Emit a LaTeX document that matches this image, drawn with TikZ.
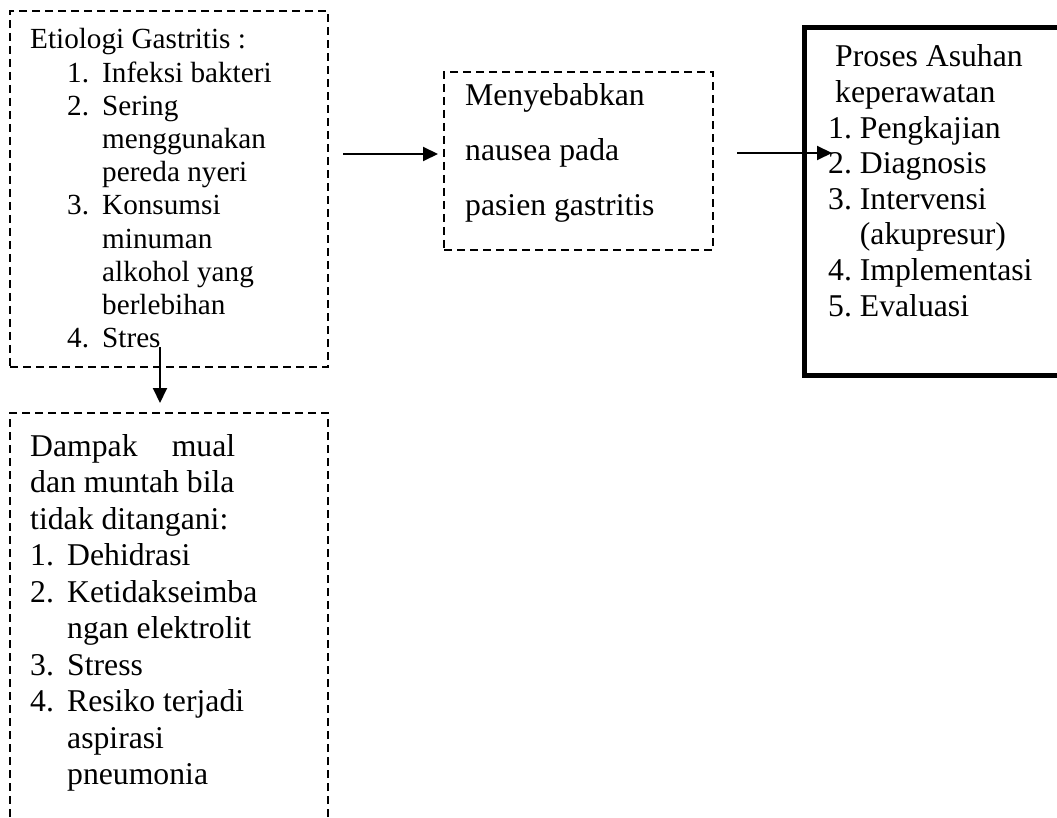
\documentclass[tikz,border=0pt]{standalone}
\usepackage{fontspec}
\setmainfont{Liberation Serif}
\usetikzlibrary{arrows.meta,calc}
\newcommand{\fs}[2]{\fontsize{#1}{#2}\selectfont}
\begin{document}
\begin{tikzpicture}[x=1pt,y=-1pt,
  dbox/.style={draw, line width=2pt, dash pattern=on 8pt off 5pt, inner sep=0pt, outer sep=0pt, anchor=north west},
  tbox/.style={draw, line width=5pt, inner sep=0pt, outer sep=0pt, anchor=north west},
  txt/.style={anchor=base west, inner sep=0pt},
  arr/.style={line width=2pt, -{Triangle[length=15pt,width=14pt]}}]
\useasboundingbox (0,0) rectangle (1057,818);
\fill[white] (0,0) rectangle (1057,818);
\clip (0,0) rectangle (1057,818);
% boxes
\node[dbox, minimum width=318pt, minimum height=356pt] (e) at (10,11) {};
\node[dbox, minimum width=318pt, minimum height=450pt] (d) at (10,413) {};
\node[dbox, minimum width=269pt, minimum height=178pt] (m) at (444,72) {};
\node[tbox, minimum width=300pt, minimum height=347.5pt] (p) at (804.5,27.5) {};
% texts
\node[txt] (et) at (30,49) {\fs{29.2}{33.2}\begin{tabular}[t]{@{}l@{}}
Etiologi Gastritis :\\
\hspace*{37pt}\makebox[35pt][l]{1.}Infeksi bakteri\\
\hspace*{37pt}\makebox[35pt][l]{2.}Sering\\
\hspace*{72pt}menggunakan\\
\hspace*{72pt}pereda nyeri\\
\hspace*{37pt}\makebox[35pt][l]{3.}Konsumsi\\
\hspace*{72pt}minuman\\
\hspace*{72pt}alkohol yang\\
\hspace*{72pt}berlebihan\\
\hspace*{37pt}\makebox[35pt][l]{4.}Stres
\end{tabular}};
\node[txt] (dt) at (30,456) {\fs{31.7}{36.5}\begin{tabular}[t]{@{}l@{}}
\makebox[205pt][l]{Dampak\hfill mual}\\
dan muntah bila\\
tidak ditangani:\\
\makebox[37pt][l]{1.}Dehidrasi\\
\makebox[37pt][l]{2.}Ketidakseimba\\
\hspace*{37pt}ngan elektrolit\\
\makebox[37pt][l]{3.}Stress\\
\makebox[37pt][l]{4.}Resiko terjadi\\
\hspace*{37pt}aspirasi\\
\hspace*{37pt}pneumonia
\end{tabular}};
\node[txt] (mt) at (465,106) {\fs{31.7}{55}\begin{tabular}[t]{@{}l@{}}
Menyebabkan\\
nausea pada\\
pasien gastritis
\end{tabular}};
\node[txt] (pt) at (828,67) {\fs{31.7}{35.6}\begin{tabular}[t]{@{}l@{}}
\hspace*{7pt}Proses Asuhan\\
\hspace*{7pt}keperawatan\\
\makebox[31.7pt][l]{1.}Pengkajian\\
\makebox[31.7pt][l]{2.}Diagnosis\\
\makebox[31.7pt][l]{3.}Intervensi\\
\hspace*{31.7pt}(akupresur)\\
\makebox[31.7pt][l]{4.}Implementasi\\
\makebox[31.7pt][l]{5.}Evaluasi
\end{tabular}};
% connectors
\coordinate (a1s) at (343,154);
\coordinate (a2s) at (737,153);
\coordinate (a2e) at (832,153);
\coordinate (a3s) at (160,347);
\draw[arr, shorten >=6pt] (a1s) -- (a1s -| m.west);
\draw[arr] (a2s) -- (a2e);
\draw[arr, shorten >=10pt] (a3s) -- (a3s |- d.north);
\end{tikzpicture}
\end{document}
